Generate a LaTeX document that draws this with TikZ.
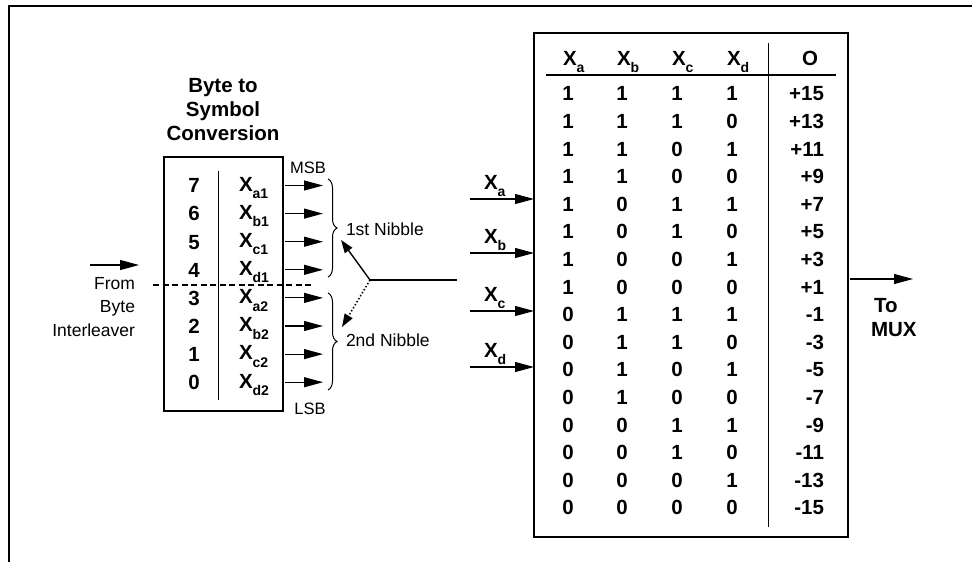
\documentclass[tikz,border=0pt]{standalone}
\usepackage{fontspec}
\setmainfont{Liberation Sans}
\usepackage{tikz}
\usetikzlibrary{arrows.meta,positioning,decorations.pathreplacing}

\newcommand\lowsub[1]{\raisebox{-0.36em}{\fontsize{14}{14}\selectfont #1}}

\begin{document}
\begin{tikzpicture}[x=1pt, y=-1pt,
  every node/.style={inner sep=0pt, outer sep=0pt},
  bold/.style={font=\fontsize{20.5}{24}\selectfont\bfseries},
  plain/.style={font=\fontsize{17.5}{23.5}\selectfont},
  box/.style={draw, line width=2.2pt},
  tip/.style={-{Triangle[length=19pt,width=10pt]}, line width=1.1pt},
  nibble/.style={decorate, decoration={brace, amplitude=9pt}, line width=1pt}
  ]
  \useasboundingbox (0,0) rectangle (972,562);
  \draw[line width=2.4pt] (9,562) -- (9,6) -- (972,6);

  % byte to symbol conversion
  \node[bold, align=center, anchor=north] (title) at (223,78) {Byte to\\Symbol\\Conversion};
  \node[box, minimum width=119pt, minimum height=254pt] (conv) at (223.5,284) {};
  \draw[line width=0.9pt] (218,171) -- (218,400);
  \foreach \b/\s [count=\i from 0] in {7/a1,6/b1,5/c1,4/d1,3/a2,2/b2,1/c2,0/d2} {
    \pgfmathsetmacro\yy{185.5+28.1*\i}
    \node[bold, anchor=base] (bit\b) at (194,\yy+7.3) {\b};
    \node[bold, anchor=base west] (sym\b) at (239,\yy+5.8) {X\lowsub{\s}};
    \coordinate (out\b) at (285,\yy);
    \coordinate (in\b) at (323,\yy);
    \draw[tip] (out\b) -- (in\b);
  }
  \node[font=\fontsize{16.5}{16}\selectfont, anchor=base] (msb) at (308,173) {MSB};
  \node[font=\fontsize{16.5}{16}\selectfont, anchor=base] (lsb) at (310,414) {LSB};
  \draw[nibble] (328,179) -- (328,277) coordinate[midway, xshift=10pt] (first);
  \draw[nibble] (328,293) -- (328,390) coordinate[midway, xshift=10pt] (second);
  \node[plain, anchor=base west] (n1) at (346,235.5) {1st Nibble};
  \node[plain, anchor=base west] (n2) at (346,346.5) {2nd Nibble};
  \draw[line width=1.8pt, dash pattern=on 6pt off 3.5pt] (153,285) -- (313,285);

  % switch
  \coordinate (hub) at (370,280);
  \coordinate (hubend) at (457,280);
  \coordinate (up) at (341,240);
  \coordinate (down) at (342,327);
  \draw[line width=2pt] (hub) -- (hubend);
  \draw[line width=1.4pt, -{Triangle[length=13pt,width=9pt]}] (hub) -- (up);
  \draw[line width=1.5pt, dotted, -{Triangle[length=13pt,width=9pt]}] (hub) -- (down);

  % from byte interleaver
  \node[plain, align=right, anchor=north east] (from) at (135,277) {From\\Byte\\Interleaver};
  \coordinate (src) at (90,265);
  \coordinate (srcend) at (139,265);
  \draw[tip] (src) -- (srcend);

  % mapping table
  \node[box, minimum width=314pt, minimum height=504pt] (tbl) at (691,285) {};
  \draw[line width=0.9pt] (768,43) -- (768,527);
  \draw[line width=1.4pt] (546,75) -- (836,75);
  \foreach \l/\x in {a/563,b/617,c/672,d/727}
    \node[bold, anchor=base west] (h\l) at (\x,65) {X\lowsub{\l}};
  \node[bold, anchor=base] (ho) at (810,65) {O};
  \foreach \a/\b/\c/\d/\o [count=\i from 0] in {1/1/1/1/+15,1/1/1/0/+13,1/1/0/1/+11,1/1/0/0/+9,
      1/0/1/1/+7,1/0/1/0/+5,1/0/0/1/+3,1/0/0/0/+1,0/1/1/1/-1,0/1/1/0/-3,0/1/0/1/-5,0/1/0/0/-7,
      0/0/1/1/-9,0/0/1/0/-11,0/0/0/1/-13,0/0/0/0/-15} {
    \pgfmathsetmacro\yy{93.5+27.6*\i+7.3}
    \node[bold, anchor=base] at (568,\yy) {\a};
    \node[bold, anchor=base] at (622,\yy) {\b};
    \node[bold, anchor=base] at (677,\yy) {\c};
    \node[bold, anchor=base] at (732,\yy) {\d};
    \node[bold, anchor=base east] (o\i) at (824,\yy) {\o};
  }
  \foreach \l/\y in {a/199,b/253,c/311,d/367} {
    \coordinate (x\l) at (470,\y);
    \coordinate (t\l) at (534,\y);
    \draw[tip] (x\l) -- (t\l);
    \node[bold, anchor=base west] (lab\l) at (484,\y-10) {X\lowsub{\l}};
  }

  % to mux
  \coordinate (res) at (850,279);
  \coordinate (resend) at (913,279);
  \draw[tip] (res) -- (resend);
  \node[bold, anchor=base west] (to) at (874,312) {To};
  \node[bold, anchor=base west] (mux) at (871,336) {MUX};
\end{tikzpicture}
\end{document}
